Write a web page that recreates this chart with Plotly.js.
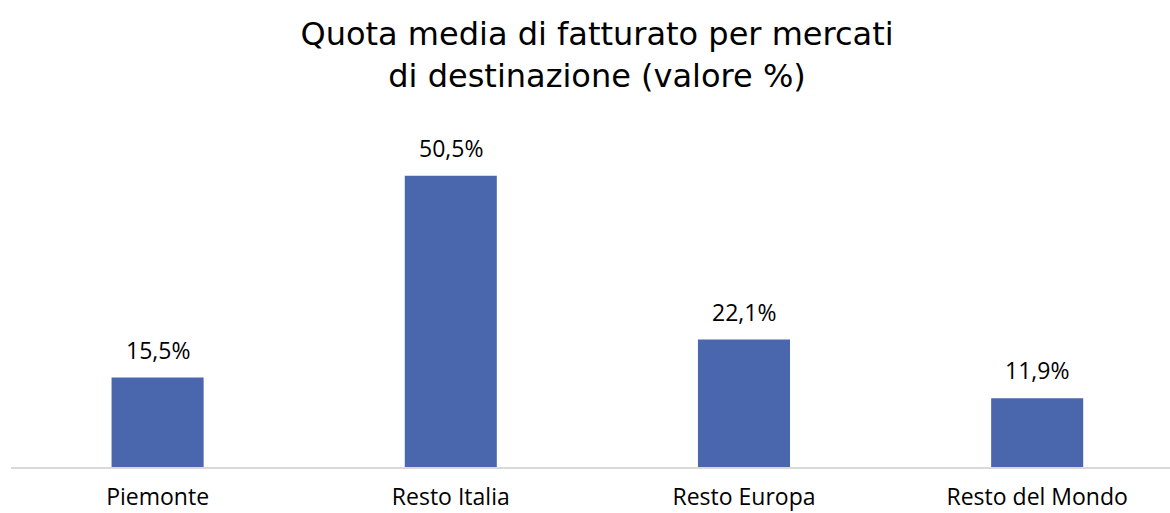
<!DOCTYPE html>
<html>
<head>
<meta charset="utf-8">
<script src="https://cdn.plot.ly/plotly-3.0.1.min.js"></script>
<style>html,body{margin:0;padding:0;background:#fff;}#chart{width:1170px;height:513px;}</style>
</head>
<body>
<div id="chart"></div>
<script>
const categories = ["Piemonte", "Resto Italia", "Resto Europa", "Resto del Mondo"];
const values = [15.5, 50.5, 22.1, 11.9];
const titleText = "Quota media di fatturato per mercati<br>di destinazione (valore %)";

const fmt = v => v.toFixed(1).replace('.', ',') + '%';
const FONT = "Open Sans, Noto Sans, sans-serif";
const TFONT = "DejaVu Sans, Verdana, sans-serif";

const trace = {
  type: 'bar',
  x: categories,
  y: values,
  marker: {color: '#4A66AC'},
  hoverinfo: 'none'
};

const annotations = categories.map((c, i) => ({
  x: c, y: values[i], xref: 'x', yref: 'y',
  text: fmt(values[i]),
  showarrow: false,
  yanchor: 'bottom',
  yshift: 10,
  font: {family: FONT, size: 23, color: '#000'}
}));

const layout = {
  width: 1170, height: 513,
  margin: {l: 11, r: 0, t: 100, b: 46},
  paper_bgcolor: '#fff', plot_bgcolor: '#fff',
  bargap: 0.686,
  title: {
    text: titleText,
    xref: 'container', yref: 'container',
    x: 0.5103, y: 1 - 45/513,
    xanchor: 'center', yanchor: 'middle',
    font: {family: TFONT, size: 32, color: '#000'}
  },
  xaxis: {
    type: 'category',
    range: [-0.5, 3.453],
    showline: true, linecolor: '#D9D9D9', linewidth: 1.5,
    showgrid: false, zeroline: false,
    ticks: '', ticklabelstandoff: 9,
    tickfont: {family: FONT, size: 23, color: '#000'}
  },
  yaxis: {
    range: [0, 63.63],
    visible: false, showgrid: false, zeroline: false
  },
  annotations: annotations,
  showlegend: false
};

Plotly.newPlot('chart', [trace], layout, {staticPlot: true, displayModeBar: false});
</script>
</body>
</html>
